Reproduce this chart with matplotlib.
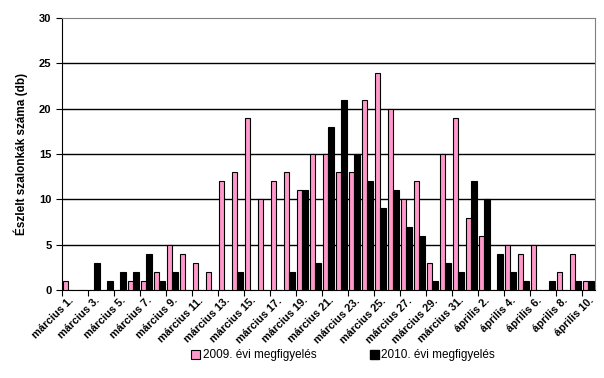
import numpy as np
import matplotlib
matplotlib.use('Agg')
from matplotlib import pyplot as plt
from matplotlib.patches import Patch

plt.rcParams['font.family'] = ['Liberation Sans', 'DejaVu Sans']

# napok: március 1. - április 10.
days = ['március %d.' % d for d in range(1, 32)] + ['április %d.' % d for d in range(1, 11)]

# észlelt szalonkák száma (db)
obs_2009 = [1, 0, 0, 0, 0, 1, 1, 2, 5, 4, 3, 2, 12, 13, 19, 10, 12, 13, 11, 15,
            15, 13, 13, 21, 24, 20, 10, 12, 3, 15, 19, 8, 6, 0, 5, 4, 5, 0, 2, 4, 1]
obs_2010 = [0, 0, 3, 1, 2, 2, 4, 1, 2, 0, 0, 0, 0, 2, 0, 0, 0, 2, 11, 3,
            18, 21, 15, 12, 9, 11, 7, 6, 1, 3, 2, 12, 10, 4, 2, 1, 0, 1, 0, 1, 1]

pink = '#FF99CC'
x = np.arange(len(days))
w = 0.42

fig = plt.figure(figsize=(6.04, 3.78), dpi=100)
ax = fig.add_axes([0.1026, 0.2328, 0.8824, 0.7192])

ax.bar(x - w/2, obs_2009, w, color=pink, edgecolor='black', linewidth=0.8, zorder=3)
ax.bar(x + w/2, obs_2010, w, color='black', edgecolor='black', linewidth=0.8, zorder=3)

ax.set_xlim(-0.5, len(days) - 0.5)
ax.set_ylim(0, 30)
ax.set_yticks(np.arange(0, 31, 5))
for yv in range(5, 30, 5):
    ax.axhline(yv, color='black', linewidth=1, zorder=1)

# tick marks on category boundaries, labels on every second day
ax.set_xticks(np.arange(-0.5, len(days), 2))
ax.set_xticklabels([])
ax.set_xticks(x[::2], minor=True)
ax.set_xticklabels(days[::2], minor=True, rotation=45, ha='right', va='top',
                   rotation_mode='anchor', fontsize=7.8, fontweight='bold')
ax.tick_params(axis='x', which='minor', length=0, pad=4)
ax.tick_params(axis='x', which='major', length=4, direction='out')
ax.tick_params(axis='y', length=4, labelsize=8)
for lab in ax.get_yticklabels():
    lab.set_fontweight('bold')

ax.set_ylabel('Észlelt szalonkák száma (db)', fontsize=8.5, fontweight='bold', labelpad=8)

for s in ['top', 'right']:
    ax.spines[s].set_color('#808080')
for s in ['left', 'bottom']:
    ax.spines[s].set_color('black')

handles = [Patch(facecolor=pink, edgecolor='black', linewidth=0.8),
           Patch(facecolor='black', edgecolor='black')]
fig.legend(handles, ['2009. évi megfigyelés', '2010. évi megfigyelés'],
           loc='center', bbox_to_anchor=(0.568, 0.06), ncol=2, frameon=False,
           fontsize=8.5, handlelength=0.8, handleheight=0.8, handletextpad=0.2,
           columnspacing=4.5)

fig.savefig('out.png', dpi=100)
